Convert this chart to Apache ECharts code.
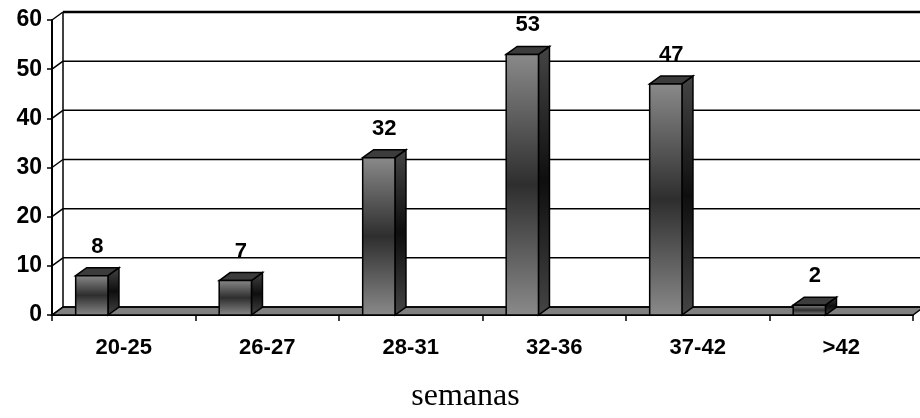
<!DOCTYPE html>
<html lang="es">
<head>
<meta charset="UTF-8" />
<title>semanas</title>
<style>
  html, body { margin: 0; padding: 0; background: #fff; }
  #chart { width: 920px; height: 418px; }
</style>
</head>
<body>
<div id="chart"></div>
<script src="https://cdn.jsdelivr.net/npm/echarts@6/dist/echarts.min.js"></script>
<script>
const categories = ['20-25', '26-27', '28-31', '32-36', '37-42', '>42'];
const counts = [8, 7, 32, 53, 47, 2];
const yTicks = [0, 10, 20, 30, 40, 50, 60];

// depth of the fake 3d box
const DX = 11, DY = 8;
const labelFont = 'bold 22px "Liberation Sans", Arial, sans-serif';

const frontGrad = new echarts.graphic.LinearGradient(0, 0, 0, 1, [
  { offset: 0, color: '#8a8a8a' }, { offset: 0.5, color: '#2e2e2e' }, { offset: 1, color: '#8a8a8a' }
]);
const sideGrad = new echarts.graphic.LinearGradient(0, 0, 0, 1, [
  { offset: 0, color: '#454545' }, { offset: 0.5, color: '#0e0e0e' }, { offset: 1, color: '#454545' }
]);

function renderWall(params, api) {
  const cs = params.coordSys;
  const v = api.value(1);
  const y = api.coord([0, v])[1];
  const y0 = api.coord([0, 0])[1];
  const x0 = cs.x, w = cs.width;
  const kids = [];
  if (v === 0) {
    kids.push({
      type: 'polygon',
      shape: { points: [[x0, y], [x0 + DX, y - DY], [x0 + w + DX, y - DY], [x0 + w, y]] },
      style: { fill: '#808080', stroke: '#000', lineWidth: 1.5 }
    });
  }
  kids.push({
    type: 'line',
    shape: { x1: x0 + DX, y1: y - DY, x2: x0 + w + DX, y2: y - DY },
    style: { stroke: '#000', lineWidth: v === 60 ? 2.5 : 1.5 }
  });
  kids.push({
    type: 'line',
    shape: { x1: x0, y1: y, x2: x0 + DX, y2: y - DY },
    style: { stroke: '#000', lineWidth: 1.5 }
  });
  if (v === 60) {
    kids.push({
      type: 'line',
      shape: { x1: x0 + DX, y1: y - DY, x2: x0 + DX, y2: y0 - DY },
      style: { stroke: '#000', lineWidth: 1.5 }
    });
  }
  return { type: 'group', children: kids };
}

function renderBar(params, api) {
  const idx = api.value(0);
  const top = api.coord([idx, api.value(1)]);
  const y0 = api.coord([idx, 0])[1];
  const bw = api.size([1, 0])[0];
  const L = top[0] - bw * 0.335;
  const W = bw * 0.225;
  const R = L + W;
  const yt = top[1];
  return {
    type: 'group',
    children: [
      {
        type: 'polygon',
        shape: { points: [[R, yt], [R + DX, yt - DY], [R + DX, y0 - DY], [R, y0]] },
        style: { fill: sideGrad, stroke: '#000', lineWidth: 1.5 }
      },
      {
        type: 'polygon',
        shape: { points: [[L, yt], [L + DX, yt - DY], [R + DX, yt - DY], [R, yt]] },
        style: { fill: '#3c3c3c', stroke: '#000', lineWidth: 1.5 }
      },
      {
        type: 'rect',
        shape: { x: L, y: yt, width: W, height: y0 - yt },
        style: { fill: frontGrad, stroke: '#000', lineWidth: 1.5 }
      },
      {
        type: 'text',
        style: {
          x: L + (W + DX) / 2, y: yt - 29,
          text: String(api.value(1)),
          font: labelFont, fill: '#000',
          align: 'center', verticalAlign: 'middle'
        }
      }
    ]
  };
}

const chart = echarts.init(document.getElementById('chart'));
chart.setOption({
  animation: false,
  grid: { left: 52, right: 7, top: 20, bottom: 89 },
  xAxis: {
    type: 'category',
    data: categories,
    axisLine: { lineStyle: { color: '#000', width: 2 } },
    axisTick: { show: true, length: 6, lineStyle: { color: '#000', width: 1.5 } },
    axisLabel: { color: '#000', fontSize: 22, fontWeight: 'bold', fontFamily: '"Liberation Sans", Arial', margin: 22 },
    name: 'semanas',
    nameLocation: 'middle',
    nameGap: 66,
    nameTextStyle: { color: '#000', fontSize: 32, fontFamily: '"Liberation Serif", "Times New Roman", serif', padding: [0, 34, 0, 0] }
  },
  yAxis: {
    type: 'value',
    min: 0, max: 60, interval: 10,
    splitLine: { show: false },
    axisLine: { show: true, lineStyle: { color: '#000', width: 2 } },
    axisTick: { show: true, length: 5, lineStyle: { color: '#000', width: 1.5 } },
    axisLabel: { color: '#000', fontSize: 23, fontWeight: 'bold', fontFamily: '"Liberation Sans", Arial', margin: 10 }
  },
  series: [
    {
      type: 'custom',
      z: 1,
      silent: true,
      renderItem: renderWall,
      encode: { x: 0, y: 1 },
      data: yTicks.map(v => [0, v])
    },
    {
      type: 'custom',
      z: 3,
      renderItem: renderBar,
      encode: { x: 0, y: 1 },
      data: counts.map((c, i) => [i, c])
    }
  ]
});
</script>
</body>
</html>
